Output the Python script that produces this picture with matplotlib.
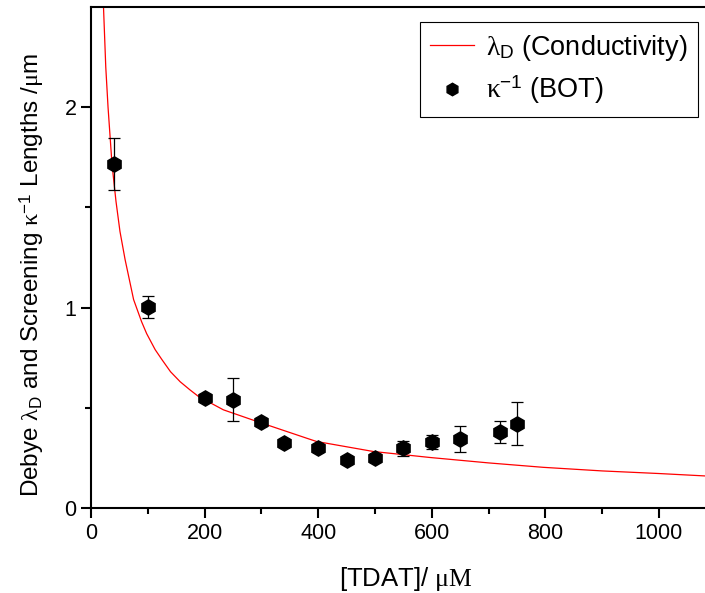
import numpy as np
import matplotlib
matplotlib.use("Agg")
import matplotlib.pyplot as plt
from matplotlib.lines import Line2D

plt.rcParams['font.family'] = ['Liberation Sans', 'DejaVu Sans']
plt.rcParams['mathtext.fontset'] = 'custom'
plt.rcParams['mathtext.rm'] = 'Liberation Serif'
plt.rcParams['mathtext.it'] = 'Liberation Serif:italic'
plt.rcParams['mathtext.sf'] = 'Liberation Sans'

# Debye length from conductivity
curve_x = [22, 26, 30, 37, 44, 51, 60, 75, 89, 98, 113, 125, 140, 157, 174, 189,
           233, 292, 380, 397, 497, 597, 700, 796, 900, 1000, 1081]
curve_y = [2.5, 2.2, 2.0, 1.715, 1.53, 1.38, 1.24, 1.04, 0.93, 0.87, 0.79, 0.74,
           0.68, 0.63, 0.59, 0.557, 0.49, 0.432, 0.348, 0.332, 0.282, 0.252,
           0.225, 0.203, 0.185, 0.172, 0.16]

# screening lengths from BOT
bot_x = [40, 100, 200, 250, 300, 340, 400, 450, 500, 550, 600, 650, 720, 750]
bot_y = [1.715, 1.003, 0.548, 0.54, 0.43, 0.323, 0.30, 0.24, 0.248, 0.298,
         0.328, 0.345, 0.377, 0.42]
bot_err = [0.13, 0.056, 0.02, 0.108, 0.02, 0.015, 0.015, 0.015, 0.02, 0.038,
           0.035, 0.065, 0.055, 0.107]

lam_label = r'$\mathrm{\lambda}_{\mathsf{D}}$ (Conductivity)'
kap_label = r'$\mathrm{\kappa}^{\mathsf{-1}}$ (BOT)'

fig = plt.figure(figsize=(7.05, 5.93), dpi=100)
ax = fig.add_axes([91/705, 1 - 508/593, 614/705, 501/593])

ax.plot(curve_x, curve_y, color='red', lw=0.9)
ax.errorbar(bot_x, bot_y, yerr=bot_err, fmt='h', color='black', ms=11,
            ecolor='black', elinewidth=0.9, capsize=4, capthick=0.9)

ax.set_xlim(0, 1081)
ax.set_ylim(0, 2.5)
ax.set_xticks([0, 200, 400, 600, 800, 1000])
ax.set_xticks(np.arange(100, 1100, 200), minor=True)
ax.set_yticks([0, 1, 2])
ax.set_yticks([0.5, 1.5], minor=True)

ax.spines['right'].set_visible(False)
for s in ['left', 'bottom', 'top']:
    ax.spines[s].set_linewidth(1.5)
ax.tick_params(which='major', direction='out', length=7, width=1.5, labelsize=15.5)
ax.tick_params(which='minor', direction='out', length=4, width=1.5)

ax.set_xlabel(r'[TDAT]/ $\mathrm{\mu M}$', fontsize=18.5)
ax.xaxis.set_label_coords(0.513, -0.114)
ax.set_ylabel(r'Debye $\mathrm{\lambda}_{\mathsf{D}}$ and Screening $\mathrm{\kappa}^{\mathsf{-1}}$ Lengths /$\mathrm{\mu}$m',
              fontsize=17.5)
ax.yaxis.set_label_coords(-0.073, 0.465)

handles = [Line2D([], [], color='red', lw=0.9),
           Line2D([], [], ls='none', marker='h', color='black', ms=9)]
leg = ax.legend(handles, [lam_label, kap_label], loc='upper right',
                bbox_to_anchor=(0.989, 0.97), fontsize=19.5,
                fancybox=False, framealpha=1, edgecolor='black',
                handlelength=1.6, handletextpad=0.45, borderpad=0.4,
                labelspacing=0.4, borderaxespad=0)
leg.get_frame().set_linewidth(0.8)

plt.savefig('out.png', dpi=100)
